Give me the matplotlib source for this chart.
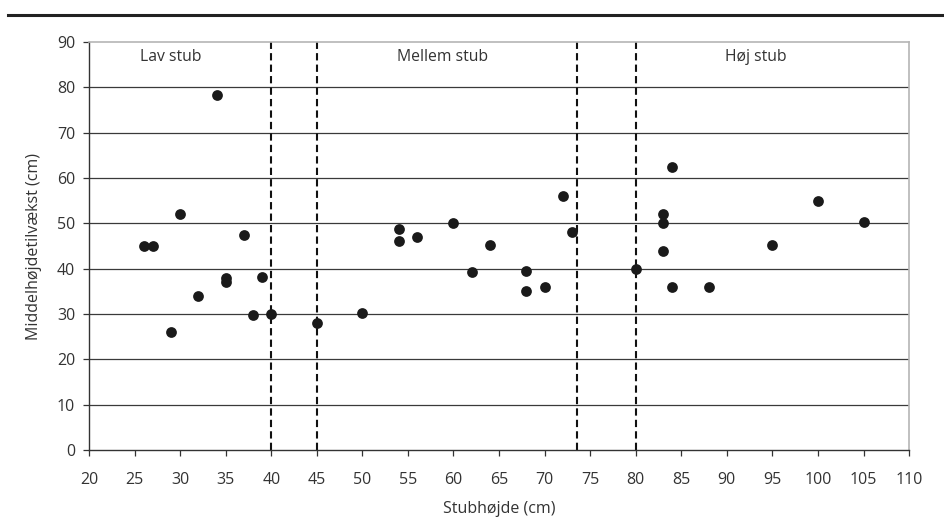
import matplotlib
matplotlib.use("Agg")
import matplotlib.pyplot as plt
from matplotlib.lines import Line2D

plt.rcParams['font.family'] = ['Open Sans', 'DejaVu Sans']

# Data
stub_height = [26, 27, 29, 30, 32, 34, 35, 35, 37, 38, 39, 40,
               45, 50, 54, 54, 56, 60, 62, 64, 68, 68, 70, 72, 73,
               80, 83, 83, 83, 84, 84, 88, 95, 100, 105]
growth = [45, 45, 26, 52, 34, 78.3, 38, 37, 47.5, 29.8, 38.2, 30,
          28, 30.3, 48.7, 46, 47, 50, 39.2, 45.3, 39.5, 35, 36, 56, 48.2,
          40, 52, 50, 44, 62.5, 36, 36, 45.3, 55, 50.2]
boundaries = [40, 45, 73.5, 80]
zone_labels = ["Lav stub", "Mellem stub", "Høj stub"]
zone_label_x = [29, 58.8, 93.2]
x_ticks = list(range(20, 111, 5))
y_ticks = list(range(0, 91, 10))

fig = plt.figure(figsize=(9.45, 5.29), dpi=100)
ax = fig.add_axes([0.0942, 0.1493, 0.962 - 0.0942, 0.9206 - 0.1493])

ax.set_xlim(20, 110)
ax.set_ylim(0, 90)
ax.set_xticks(x_ticks)
ax.set_yticks(y_ticks)

for y in y_ticks[1:-1]:
    ax.axhline(y, color='#3a3a3a', lw=0.9, zorder=1)

for b in boundaries:
    ax.axvline(b, color='#111111', lw=1.5, linestyle=(0, (3.5, 2)), zorder=2)

ax.scatter(stub_height, growth, s=60, color='#1a1a1a', zorder=3, linewidths=0)

for lab, lx in zip(zone_labels, zone_label_x):
    ax.text(lx, 86.8, lab, ha='center', va='center', fontsize=11.3, color='#333333')

for side in ['top', 'right']:
    ax.spines[side].set_color('#b5b5b5')
    ax.spines[side].set_linewidth(1.2)
for side in ['left', 'bottom']:
    ax.spines[side].set_color('#333333')
    ax.spines[side].set_linewidth(1.0)

ax.tick_params(axis='both', direction='out', length=4, width=0.9, color='#333333',
               labelsize=11.5, labelcolor='#333333')
ax.tick_params(axis='x', pad=12)
ax.tick_params(axis='y', pad=6)

ax.set_xlabel('Stubhøjde (cm)', fontsize=11.5, color='#333333', labelpad=9)
ax.set_ylabel('Middelhøjdetilvækst (cm)', fontsize=11.5, color='#333333', labelpad=11)

fig.add_artist(Line2D([0.008, 1.0], [1 - 15 / 529, 1 - 15 / 529],
                      transform=fig.transFigure, color='#222222', lw=2.2))

fig.savefig('out.png', dpi=100)
